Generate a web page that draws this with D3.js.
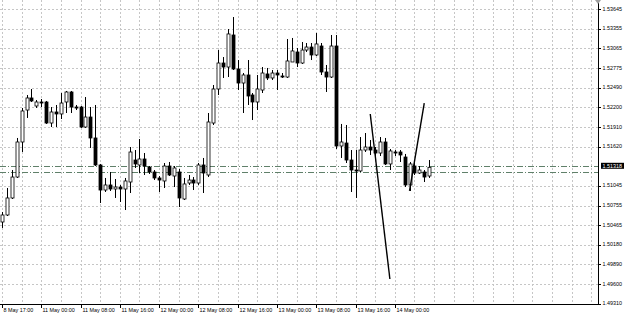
<!DOCTYPE html>
<html>
<head>
<meta charset="utf-8">
<script src="https://d3js.org/d3.v7.min.js"></script>
<style>
body{margin:0;background:#fff;overflow:hidden;}
text{font-family:"Liberation Sans",Arial,sans-serif;font-size:5.4px;fill:#000;}
</style>
</head>
<body>
<svg id="chart"></svg>
<script>
// hourly bars, GBP pair, 8 May 17:00 -> 14 May ~07:00
var opens=[1.50514,1.50617,1.50867,1.51175,1.51690,1.52160,1.52337,1.52219,1.52278,1.52278,
    1.51969,1.52131,1.52102,1.52278,1.52425,1.52204,1.52204,1.51910,1.52057,1.51749,
    1.51352,1.50984,1.51058,1.50999,1.51028,1.50999,1.51102,1.51425,1.51352,1.51440,
    1.51322,1.51249,1.51161,1.51117,1.51337,1.51190,1.51249,1.50852,1.51087,1.51131,
    1.51087,1.51352,1.51205,1.51969,1.52469,1.52851,1.52792,1.53263,1.52763,1.52557,
    1.52675,1.52381,1.52278,1.52454,1.52690,1.52631,1.52704,1.52660,1.52645,1.52866,
    1.53013,1.52851,1.53042,1.53086,1.52969,1.53101,1.52719,1.52645,1.53101,1.51631,
    1.51675,1.51425,1.51278,1.51264,1.51572,1.51616,1.51572,1.51528,1.51690,1.51367,
    1.51543,1.51543,1.51469,1.51058,1.51337,1.51234,1.51249,1.51190]
var highs=[1.50661,1.51014,1.51278,1.51749,1.52190,1.52381,1.52469,1.52307,1.52322,1.52293,
    1.52204,1.52234,1.52410,1.52440,1.52440,1.52234,1.52219,1.52351,1.52204,1.52234,
    1.51367,1.51161,1.51249,1.51146,1.51058,1.51161,1.51616,1.51572,1.51734,1.51528,
    1.51337,1.51278,1.51190,1.51381,1.51396,1.51337,1.51293,1.51161,1.51205,1.51175,
    1.51381,1.51455,1.52116,1.52528,1.53042,1.52939,1.53351,1.53527,1.52895,1.52704,
    1.52895,1.52410,1.52675,1.52792,1.52778,1.52748,1.52748,1.52704,1.53204,1.53219,
    1.53072,1.53160,1.53145,1.53145,1.53292,1.53145,1.52822,1.53263,1.53263,1.51955,
    1.51940,1.51572,1.51572,1.51763,1.51822,1.51719,1.51616,1.51763,1.51749,1.51587,
    1.51572,1.51572,1.51514,1.51396,1.51396,1.51337,1.51278,1.51425]
var lows=[1.50426,1.50602,1.50852,1.51161,1.51543,1.52043,1.52278,1.52190,1.52204,1.51955,
    1.51910,1.51910,1.52028,1.52116,1.52116,1.52160,1.51896,1.51896,1.51602,1.51337,
    1.50793,1.50955,1.50970,1.50867,1.50808,1.50690,1.50940,1.51308,1.51234,1.51205,
    1.51220,1.51131,1.50955,1.51014,1.51190,1.51028,1.50734,1.50837,1.51058,1.50984,
    1.51058,1.50940,1.51175,1.51940,1.52381,1.52631,1.52645,1.52748,1.52454,1.52116,
    1.52234,1.52013,1.52160,1.52410,1.52601,1.52601,1.52454,1.52631,1.52631,1.52866,
    1.52792,1.52837,1.53013,1.52895,1.52954,1.52675,1.52425,1.52631,1.51587,1.51455,
    1.51381,1.50955,1.50867,1.51249,1.51543,1.51499,1.51425,1.51484,1.51352,1.51278,
    1.51484,1.51396,1.51028,1.50970,1.51205,1.51220,1.51102,1.51161]
var closes=[1.50617,1.50867,1.51175,1.51690,1.52146,1.52337,1.52293,1.52278,1.52263,1.51969,
    1.52131,1.52102,1.52263,1.52425,1.52204,1.52190,1.51910,1.52057,1.51749,1.51352,
    1.50984,1.51058,1.50999,1.51028,1.50999,1.51117,1.51543,1.51367,1.51440,1.51337,
    1.51249,1.51161,1.51131,1.51337,1.51205,1.51308,1.50867,1.51073,1.51131,1.51087,
    1.51352,1.51234,1.51984,1.52469,1.52851,1.52792,1.53278,1.52763,1.52557,1.52675,
    1.52366,1.52278,1.52469,1.52704,1.52631,1.52704,1.52675,1.52645,1.52881,1.53028,
    1.52851,1.53042,1.53086,1.52969,1.53131,1.52719,1.52645,1.53101,1.51631,1.51690,
    1.51425,1.51278,1.51264,1.51572,1.51616,1.51572,1.51528,1.51690,1.51367,1.51558,
    1.51528,1.51499,1.51058,1.51367,1.51234,1.51278,1.51175,1.51318]

var priceTicks=[1.53645,1.53355,1.53065,1.52775,1.52490,1.52200,1.51910,1.51620,
    1.51045,1.50755,1.50465,1.50180,1.49890,1.49600,1.49310]
var timeLabels=["8 May 17:00","11 May 00:00","11 May 08:00","11 May 16:00","12 May 00:00",
    "12 May 08:00","12 May 16:00","13 May 00:00","13 May 08:00","13 May 16:00","14 May 00:00"]
var timeLabelBars=[0,8,16,24,32,40,48,56,64,72,80]
var lastPrice=1.51318
var levelLines=[1.51342,1.51253]
var trendLines=[
    {b1:75,p1:1.52102,b2:79,p2:1.49676},
    {b1:83,p1:1.50970,b2:86,p2:1.52263}]

var screen={width:625,height:313}
var plot={right:598,bottom:304.5}

var svg=d3.select("#chart")
    .attr("width",screen.width)
    .attr("height",screen.height)

var xScale=d3.scaleLinear()
    .domain([0,120])
    .range([2,591.2])
var yScale=d3.scaleLinear()
    .domain([1.49310,1.53645])
    .range([303.9,9])

//grid
var grid=svg.append("g")
    .attr("stroke","#c6c6c6")
    .attr("stroke-width",1)
    .attr("stroke-dasharray","2,2")
grid.selectAll("line.h")
    .data(priceTicks)
    .enter()
    .append("line")
    .attr("x1",0)
    .attr("x2",plot.right)
    .attr("y1",function(p){return Math.round(yScale(p))+0.5})
    .attr("y2",function(p){return Math.round(yScale(p))+0.5})
grid.selectAll("line.v")
    .data(d3.range(0,121,4))
    .enter()
    .append("line")
    .attr("x1",function(b){return Math.round(xScale(b))+0.5})
    .attr("x2",function(b){return Math.round(xScale(b))+0.5})
    .attr("y1",0)
    .attr("y2",plot.bottom)

//level lines (dash dot)
svg.append("g")
    .selectAll("line")
    .data(levelLines)
    .enter()
    .append("line")
    .attr("x1",0)
    .attr("x2",plot.right)
    .attr("y1",function(p){return Math.round(yScale(p))+0.5})
    .attr("y2",function(p){return Math.round(yScale(p))+0.5})
    .attr("stroke","#60806a")
    .attr("stroke-width",1)
    .attr("stroke-dasharray","6,2,1,2")

//candles
var bars=d3.range(opens.length)
var candles=svg.append("g")
candles.selectAll("line.wick")
    .data(bars)
    .enter()
    .append("line")
    .attr("x1",function(i){return Math.round(xScale(i))+0.5})
    .attr("x2",function(i){return Math.round(xScale(i))+0.5})
    .attr("y1",function(i){return yScale(highs[i])})
    .attr("y2",function(i){return yScale(lows[i])})
    .attr("stroke","#000")
    .attr("stroke-width",1)
candles.selectAll("rect")
    .data(bars)
    .enter()
    .append("rect")
    .attr("x",function(i){return Math.round(xScale(i))-1})
    .attr("width",3)
    .attr("y",function(i){return Math.min(yScale(opens[i]),yScale(closes[i]))})
    .attr("height",function(i){return Math.max(1,Math.abs(yScale(opens[i])-yScale(closes[i])))})
    .attr("fill",function(i){return closes[i]>=opens[i]?"#fff":"#000"})
    .attr("stroke","#000")
    .attr("stroke-width",0.8)

//trend lines
svg.append("g")
    .selectAll("line")
    .data(trendLines)
    .enter()
    .append("line")
    .attr("x1",function(t){return xScale(t.b1)})
    .attr("y1",function(t){return yScale(t.p1)})
    .attr("x2",function(t){return xScale(t.b2)})
    .attr("y2",function(t){return yScale(t.p2)})
    .attr("stroke","#000")
    .attr("stroke-width",1.4)

//frame
svg.append("line")
    .attr("x1",plot.right+0.5).attr("x2",plot.right+0.5)
    .attr("y1",0).attr("y2",plot.bottom)
    .attr("stroke","#000")
svg.append("line")
    .attr("x1",0).attr("x2",plot.right+0.5)
    .attr("y1",plot.bottom).attr("y2",plot.bottom)
    .attr("stroke","#000")
svg.append("path")
    .attr("d","M"+(plot.right-3)+",0L"+(plot.right+3)+",0L"+plot.right+",4Z")
    .attr("fill","#a0a0a0")

//price axis
var pAxis=svg.append("g")
pAxis.selectAll("line")
    .data(priceTicks)
    .enter()
    .append("line")
    .attr("x1",plot.right)
    .attr("x2",plot.right+3)
    .attr("y1",function(p){return Math.round(yScale(p))+0.5})
    .attr("y2",function(p){return Math.round(yScale(p))+0.5})
    .attr("stroke","#000")
pAxis.selectAll("text")
    .data(priceTicks)
    .enter()
    .append("text")
    .attr("x",plot.right+4.5)
    .attr("y",function(p){return yScale(p)+1.5})
    .text(function(p){return p.toFixed(5)})

var yl=yScale(lastPrice)-1.5
pAxis.append("rect")
    .attr("x",plot.right+3)
    .attr("y",yl-3)
    .attr("width",23)
    .attr("height",6)
    .attr("fill","#000")
pAxis.append("text")
    .attr("x",plot.right+4.5)
    .attr("y",yl+2)
    .style("fill","#fff")
    .text(lastPrice.toFixed(5))

//time axis
var tAxis=svg.append("g")
tAxis.selectAll("line")
    .data(timeLabelBars)
    .enter()
    .append("line")
    .attr("x1",function(b){return Math.round(xScale(b))+0.5})
    .attr("x2",function(b){return Math.round(xScale(b))+0.5})
    .attr("y1",plot.bottom)
    .attr("y2",plot.bottom+3.5)
    .attr("stroke","#000")
tAxis.selectAll("text")
    .data(timeLabelBars)
    .enter()
    .append("text")
    .attr("x",function(b){return Math.round(xScale(b))+1.5})
    .attr("y",312)
    .text(function(b,i){return timeLabels[i]})
</script>
</body>
</html>
